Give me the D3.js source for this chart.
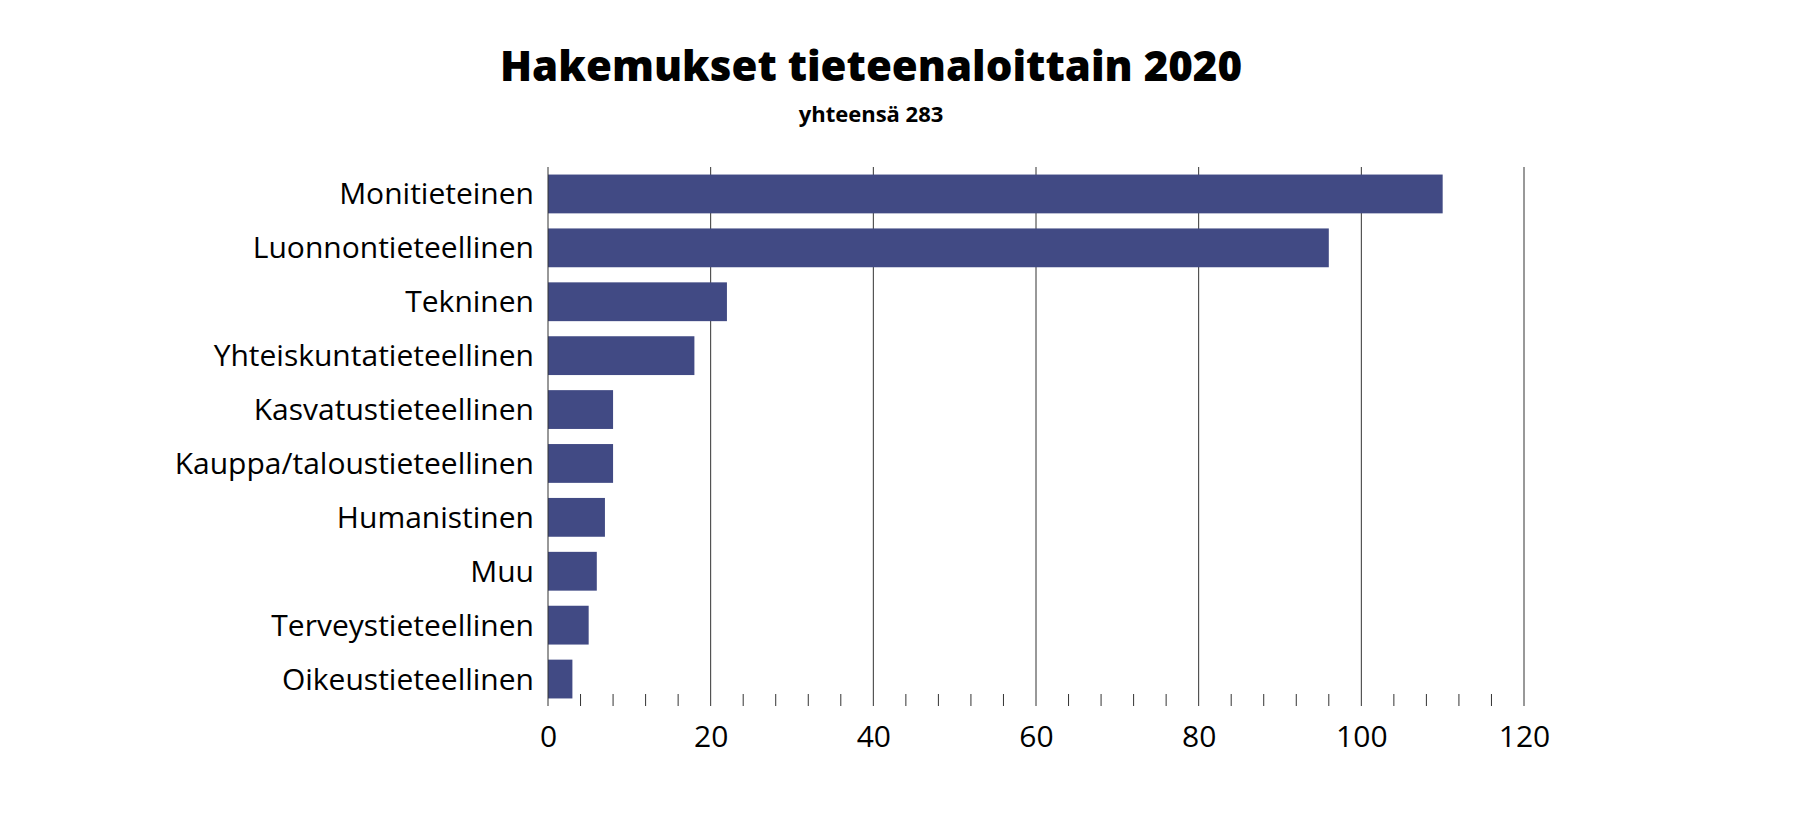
<!DOCTYPE html>
<html>
<head>
<meta charset="utf-8">
<script src="https://cdn.jsdelivr.net/npm/d3@7"></script>
<style>
  body { margin: 0; background: #fff; }
  text { font-family: "Open Sans", sans-serif; }
</style>
</head>
<body>
<svg id="chart" width="1800" height="819"></svg>
<script>
const categories = ['Monitieteinen', 'Luonnontieteellinen', 'Tekninen', 'Yhteiskuntatieteellinen',
  'Kasvatustieteellinen', 'Kauppa/taloustieteellinen', 'Humanistinen', 'Muu',
  'Terveystieteellinen', 'Oikeustieteellinen']
const values = [110, 96, 22, 18, 8, 8, 7, 6, 5, 3]
const majorTicks = [0, 20, 40, 60, 80, 100, 120]

const svg = d3.select('#chart')
const plotLeft = 548, plotRight = 1524, plotTop = 167, plotBottom = 706

const x = d3.scaleLinear().domain([0, 120]).range([plotLeft, plotRight])
const y = d3.scaleBand().domain(categories).range([plotTop, plotBottom]).paddingInner(0.28).paddingOuter(0.14)

// gridlines
svg.append('g').selectAll('line').data(majorTicks.slice(1)).join('line')
  .attr('x1', d => x(d)).attr('x2', d => x(d))
  .attr('y1', plotTop).attr('y2', plotBottom)
  .attr('stroke', '#333').attr('stroke-width', 1)

// minor ticks along the bottom
svg.append('g').selectAll('line').data(d3.range(4, 120, 4).filter(d => d % 20)).join('line')
  .attr('x1', d => x(d)).attr('x2', d => x(d))
  .attr('y1', plotBottom - 12).attr('y2', plotBottom)
  .attr('stroke', '#333')

svg.append('g').selectAll('rect').data(values).join('rect')
  .attr('x', x(0))
  .attr('y', (d, i) => y(categories[i]))
  .attr('width', d => x(d) - x(0))
  .attr('height', y.bandwidth())
  .attr('fill', '#414a84')

// value axis
const xAxis = svg.append('g').attr('transform', `translate(0,${plotBottom})`)
  .call(d3.axisBottom(x).tickValues(majorTicks).tickSize(0).tickPadding(20))
xAxis.select('.domain').remove()
xAxis.selectAll('text').attr('font-size', 30).attr('fill', '#000')
  .style('font-family', '"Open Sans", sans-serif')

// category axis
svg.append('line').attr('x1', plotLeft).attr('x2', plotLeft).attr('y1', plotTop).attr('y2', plotBottom)
  .attr('stroke', '#333')
svg.append('g').selectAll('text').data(categories).join('text')
  .attr('x', plotLeft - 14)
  .attr('y', d => y(d) + y.bandwidth() / 2)
  .attr('text-anchor', 'end').attr('dy', '0.35em')
  .attr('font-size', 30)
  .text(d => d)

svg.append('text').attr('x', 871).attr('y', 81).attr('text-anchor', 'middle')
  .attr('font-size', 42).attr('font-weight', 800).text('Hakemukset tieteenaloittain 2020')
svg.append('text').attr('x', 871).attr('y', 122).attr('text-anchor', 'middle')
  .attr('font-size', 22).attr('font-weight', 700).text('yhteensä 283')
</script>
</body>
</html>
